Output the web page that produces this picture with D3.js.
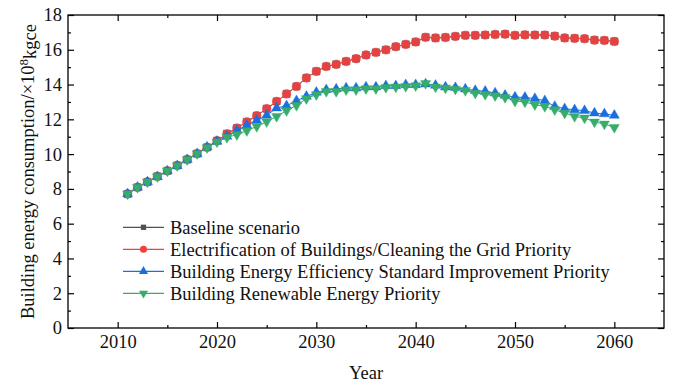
<!DOCTYPE html>
<html>
<head>
<meta charset="utf-8">
<script src="https://cdn.jsdelivr.net/npm/d3@7"></script>
<style>
  body { margin: 0; background: #fff; }
  text { font-family: "Liberation Serif", "Times New Roman", serif; fill: #111; }
</style>
</head>
<body>
<div id="chart"></div>
<script>
const years = [2011, 2012, 2013, 2014, 2015, 2016, 2017, 2018, 2019, 2020,
    2021, 2022, 2023, 2024, 2025, 2026, 2027, 2028, 2029, 2030,
    2031, 2032, 2033, 2034, 2035, 2036, 2037, 2038, 2039, 2040,
    2041, 2042, 2043, 2044, 2045, 2046, 2047, 2048, 2049, 2050,
    2051, 2052, 2053, 2054, 2055, 2056, 2057, 2058, 2059, 2060];

const baseline = [7.71, 8.09, 8.40, 8.72, 9.04, 9.35, 9.69, 10.03, 10.39, 10.77,
    11.17, 11.50, 11.85, 12.21, 12.61, 13.03, 13.46, 13.89, 14.38, 14.76,
    15.04, 15.16, 15.33, 15.49, 15.70, 15.85, 16.00, 16.18, 16.31, 16.45,
    16.72, 16.68, 16.71, 16.77, 16.83, 16.83, 16.85, 16.88, 16.90, 16.83,
    16.86, 16.85, 16.85, 16.79, 16.68, 16.66, 16.64, 16.56, 16.54, 16.48];

const electrification = [7.71, 8.09, 8.40, 8.72, 9.04, 9.35, 9.69, 10.03, 10.39, 10.77,
    11.17, 11.50, 11.85, 12.21, 12.61, 13.03, 13.46, 13.89, 14.38, 14.76,
    15.04, 15.16, 15.33, 15.49, 15.70, 15.85, 16.00, 16.18, 16.31, 16.45,
    16.72, 16.68, 16.71, 16.77, 16.83, 16.83, 16.85, 16.88, 16.90, 16.83,
    16.86, 16.85, 16.85, 16.79, 16.68, 16.66, 16.64, 16.56, 16.54, 16.48];

const efficiency = [7.71, 8.09, 8.40, 8.70, 9.03, 9.33, 9.68, 10.02, 10.40, 10.73,
    11.02, 11.36, 11.65, 11.94, 12.23, 12.65, 12.78, 13.07, 13.32, 13.55,
    13.70, 13.74, 13.80, 13.80, 13.86, 13.86, 13.93, 13.93, 13.99, 13.99,
    14.03, 13.95, 13.86, 13.82, 13.74, 13.66, 13.61, 13.51, 13.38, 13.28,
    13.26, 13.19, 13.07, 12.74, 12.61, 12.55, 12.50, 12.36, 12.31, 12.23];

const renewable = [7.71, 8.09, 8.40, 8.70, 9.03, 9.33, 9.68, 10.02, 10.37, 10.70,
    10.96, 11.12, 11.35, 11.59, 11.86, 12.17, 12.50, 12.80, 13.19, 13.42,
    13.61, 13.61, 13.70, 13.70, 13.76, 13.76, 13.84, 13.86, 13.89, 13.93,
    14.06, 13.86, 13.80, 13.74, 13.66, 13.51, 13.43, 13.36, 13.26, 13.05,
    13.00, 12.84, 12.74, 12.55, 12.36, 12.17, 12.08, 11.85, 11.73, 11.54];

const seriesNames = ["Baseline scenario",
    "Electrification of Buildings/Cleaning the Grid Priority",
    "Building Energy Efficiency Standard Improvement Priority",
    "Building Renewable Energy Priority"];

const xTicks = [2010, 2020, 2030, 2040, 2050, 2060];
const yTicks = [0, 2, 4, 6, 8, 10, 12, 14, 16, 18];

const colors = ["#515151", "#F14040", "#1A6FDF", "#37AD6B"];

const series = [
    {name: seriesNames[0], values: baseline, color: colors[0], shape: "square"},
    {name: seriesNames[1], values: electrification, color: colors[1], shape: "circle"},
    {name: seriesNames[2], values: efficiency, color: colors[2], shape: "up"},
    {name: seriesNames[3], values: renewable, color: colors[3], shape: "down"}
];

const width = 685, height = 389;
const margin = {top: 15, right: 21, bottom: 61, left: 68};
const fontSize = "18.5px";

const svg = d3.select("#chart").append("svg")
    .attr("width", width)
    .attr("height", height);

const x = d3.scaleLinear().domain([2005, 2065]).range([margin.left, width - margin.right]);
const y = d3.scaleLinear().domain([0, 18]).range([height - margin.bottom, margin.top]);

// axes, ticks inward on all four sides
function styleAxis(g) {
    g.select(".domain").remove();
    g.selectAll(".tick line").attr("stroke", "#000").attr("stroke-width", 1.2);
    g.selectAll(".tick text").style("font-size", fontSize).attr("fill", "#111");
}

const minorX = [2015, 2025, 2035, 2045, 2055];
const minorY = [1, 3, 5, 7, 9, 11, 13, 15, 17];

svg.append("g")
    .attr("transform", `translate(0,${y(0)})`)
    .call(d3.axisBottom(x).tickValues(xTicks).tickFormat(d3.format("d")).tickSize(-6).tickPadding(7))
    .call(styleAxis);
svg.append("g")
    .attr("transform", `translate(0,${y(0)})`)
    .call(d3.axisBottom(x).tickValues(minorX).tickFormat("").tickSize(-3))
    .call(styleAxis);
svg.append("g")
    .attr("transform", `translate(0,${y(18)})`)
    .call(d3.axisTop(x).tickValues(xTicks).tickFormat("").tickSize(-6))
    .call(styleAxis);
svg.append("g")
    .attr("transform", `translate(0,${y(18)})`)
    .call(d3.axisTop(x).tickValues(minorX).tickFormat("").tickSize(-3))
    .call(styleAxis);

svg.append("g")
    .attr("transform", `translate(${x(2005)},0)`)
    .call(d3.axisLeft(y).tickValues(yTicks).tickSize(-6).tickPadding(6))
    .call(styleAxis);
svg.append("g")
    .attr("transform", `translate(${x(2005)},0)`)
    .call(d3.axisLeft(y).tickValues(minorY).tickFormat("").tickSize(-3))
    .call(styleAxis);
svg.append("g")
    .attr("transform", `translate(${x(2065)},0)`)
    .call(d3.axisRight(y).tickValues(yTicks).tickFormat("").tickSize(-6))
    .call(styleAxis);
svg.append("g")
    .attr("transform", `translate(${x(2065)},0)`)
    .call(d3.axisRight(y).tickValues(minorY).tickFormat("").tickSize(-3))
    .call(styleAxis);

// frame
svg.append("rect")
    .attr("x", x(2005))
    .attr("y", y(18))
    .attr("width", x(2065) - x(2005))
    .attr("height", y(0) - y(18))
    .attr("fill", "none")
    .attr("stroke", "#000")
    .attr("stroke-width", 1.3);

// marker shapes
function markerPath(shape, size) {
    switch (shape) {
        case "square": return d3.symbol(d3.symbolSquare, size)();
        case "circle": return d3.symbol(d3.symbolCircle, size)();
        default: return d3.symbol(d3.symbolTriangle, size)();
    }
}
const markerSize = {square: 52, circle: 60, up: 44, down: 44};

const line = d3.line()
    .x((d, i) => x(years[i]))
    .y(d => y(d));

series.forEach(s => {
    const g = svg.append("g");
    g.append("path")
        .datum(s.values)
        .attr("d", line)
        .attr("fill", "none")
        .attr("stroke", s.color)
        .attr("stroke-width", 1);
    g.selectAll("path.pt")
        .data(s.values)
        .join("path")
        .attr("class", "pt")
        .attr("d", markerPath(s.shape, markerSize[s.shape]))
        .attr("transform", (d, i) => `translate(${x(years[i])},${y(d)})` + (s.shape === "down" ? " rotate(180)" : ""))
        .attr("fill", s.color)
        .attr("fill-opacity", s.shape === "circle" ? 0.9 : 1)
        .attr("stroke", s.color)
        .attr("stroke-opacity", 0.5)
        .attr("stroke-width", 0.8);
});

// legend
const legend = svg.append("g");
const legendY = [227.3, 249.3, 271.3, 293.3];
const legendMarker = {square: 28, circle: 40, up: 36, down: 36};
series.forEach((s, i) => {
    const ly = legendY[i];
    legend.append("line")
        .attr("x1", 123).attr("x2", 164)
        .attr("y1", ly).attr("y2", ly)
        .attr("stroke", s.color)
        .attr("stroke-width", 1.2);
    legend.append("path")
        .attr("d", markerPath(s.shape, legendMarker[s.shape]))
        .attr("transform", `translate(143.5,${ly})` + (s.shape === "down" ? " rotate(180)" : ""))
        .attr("fill", s.color);
    legend.append("text")
        .attr("x", 170)
        .attr("y", ly)
        .attr("dy", "0.34em")
        .style("font-size", fontSize)
        .text(s.name);
});

// axis titles
svg.append("text")
    .attr("x", (x(2005) + x(2065)) / 2)
    .attr("y", 379)
    .attr("text-anchor", "middle")
    .style("font-size", fontSize)
    .text("Year");

const yTitle = svg.append("text")
    .attr("transform", `translate(34,${(y(0) + y(18)) / 2}) rotate(-90)`)
    .attr("text-anchor", "middle")
    .style("font-size", fontSize);
yTitle.append("tspan").text("Building energy consumption/\u00d710");
yTitle.append("tspan").attr("dy", "-0.45em").style("font-size", "13px").text("8");
yTitle.append("tspan").attr("dy", "0.45em").text("kgce");
</script>
</body>
</html>
